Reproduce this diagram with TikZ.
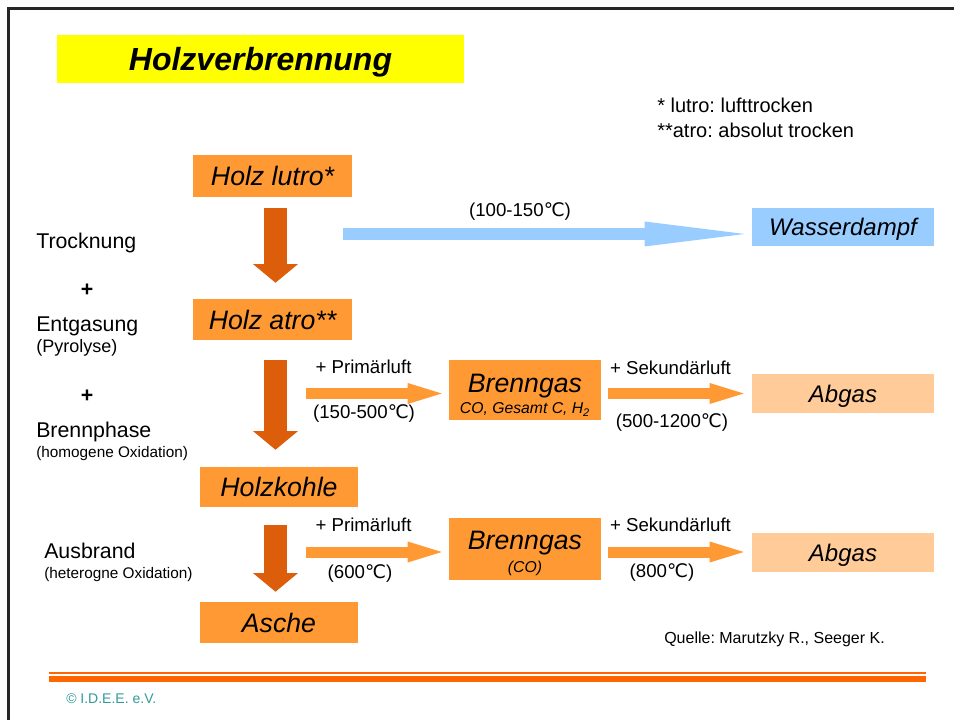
\documentclass[tikz,border=0pt]{standalone}
\usepackage{fontspec}
\setmainfont{Liberation Sans}
\newfontfamily\gradfont{DejaVu Sans}
\usepackage{tikz}
\usetikzlibrary{arrows.meta,positioning,calc}
\definecolor{BoxOrange}{RGB}{255,153,51}
\definecolor{ArrowRust}{RGB}{221,94,10}
\definecolor{SteamBlue}{RGB}{153,204,255}
\definecolor{FluePeach}{RGB}{255,204,153}
\definecolor{TitleYellow}{RGB}{255,255,0}
\definecolor{RuleOrange}{RGB}{255,102,0}
\definecolor{FooterTeal}{RGB}{51,153,153}
\newcommand{\celsius}{{\gradfont ℃}}
\frenchspacing
\tikzset{
  titel/.style={fill=TitleYellow,inner sep=0pt,text depth=0pt,
    minimum width=305.25pt,minimum height=36pt,
    font=\fontsize{24}{29}\selectfont\bfseries\itshape},
  stoff/.style={fill=BoxOrange,inner sep=0pt,text depth=0pt,
    font=\fontsize{20}{24}\selectfont\itshape},
  gas/.style={fill=BoxOrange,inner sep=0pt,align=center,
    minimum width=114pt,font=\fontsize{20}{24}\selectfont\itshape},
  abgas/.style={fill=FluePeach,inner sep=0pt,text depth=0pt,
    minimum width=136.5pt,font=\fontsize{18}{22}\selectfont\itshape},
  phase/.style={anchor=base west,inner sep=0pt,font=\fontsize{16}{19}\selectfont},
  phasezusatz/.style={anchor=base west,inner sep=0pt,font=\fontsize{11.5}{14}\selectfont},
  plus/.style={inner sep=0pt,font=\fontsize{16}{19}\selectfont\bfseries},
  luftlabel/.style={anchor=base,inner sep=0pt,font=\fontsize{14}{17}\selectfont},
  fussnote/.style={anchor=base west,inner sep=0pt,font=\fontsize{15}{18}\selectfont},
  abwaerts/.style={line width=17.25pt,draw=ArrowRust,
    -{Triangle[length=14pt,width=33.75pt,line width=0pt]}},
  luftpfeil/.style={line width=8.25pt,draw=BoxOrange,
    -{Triangle[length=25.5pt,width=15.75pt,line width=0pt]}},
  dampfpfeil/.style={line width=9pt,draw=SteamBlue,
    -{Triangle[length=75pt,width=18.75pt,line width=0pt]}}
}
\begin{document}
\begin{tikzpicture}[x=0.75pt,y=-0.75pt,>=Latex]
  \useasboundingbox (0,0) rectangle (954,720);
  \draw[line width=2pt,black!85] (8.5,720) -- (8.5,8.5) -- (954,8.5);

  \node[titel] (titel) at (260.5,59) {Holzverbrennung};
  \node[fussnote] (fnA) at (657,113) {* lutro: lufttrocken};
  \node[fussnote] (fnB) at (657,138) {**atro: absolut trocken};

  \node[stoff,minimum width=119.25pt,minimum height=31.5pt] (lutro) at (272.5,176) {Holz lutro*};
  \node[stoff,minimum width=119.25pt,minimum height=30.75pt] (atro) at (272.5,319.5) {Holz atro**};
  \node[stoff,minimum width=118.5pt,minimum height=30pt] (kohle) at (279,487) {Holzkohle};
  \node[stoff,minimum width=118.5pt,minimum height=30.75pt] (asche) at (279,622.5) {Asche};
  \node[gas,minimum height=45pt] (gasA) at (525,390.5) {};
  \node[gas,minimum height=46.5pt] (gasB) at (525,548.5) {};
  \node[gas,fill=none,yshift=-3.5pt] (gasAtext) at (gasA)
    {Brenngas\\[-8pt]{\fontsize{11.8}{14}\selectfont CO, Gesamt C, H\textsubscript{2}}};
  \node[gas,fill=none,yshift=-3.5pt] (gasBtext) at (gasB)
    {Brenngas\\[-6.75pt]{\fontsize{11.8}{14}\selectfont (CO)}};
  \node[abgas,fill=SteamBlue,minimum height=28.5pt] (dampf) at (843,227) {Wasserdampf};
  \node[abgas,minimum height=29.25pt] (abgasA) at (843,393.5) {Abgas};
  \node[abgas,minimum height=29.25pt] (abgasB) at (843,552.5) {Abgas};

  \node[phase] (trocknung) at (36,249) {Trocknung};
  \node[plus] (plusA) at (87,290) {+};
  \node[phase] (entgasung) at (36,332) {Entgasung};
  \node[phasezusatz,font=\fontsize{13.5}{16}\selectfont] (pyrolyse) at (36,353) {(Pyrolyse)};
  \node[plus] (plusB) at (87,396) {+};
  \node[phase] (brennphase) at (36,438) {Brennphase};
  \node[phasezusatz] (homogen) at (36,458) {(homogene Oxidation)};
  \node[phase] (ausbrand) at (44,558) {Ausbrand};
  \node[phasezusatz] (heterogen) at (44,578) {(heterogne Oxidation)};

  \coordinate (achse) at (275.5,0);
  \draw[abwaerts,shorten <=8.25pt,shorten >=12pt] (achse |- lutro.south) -- (achse |- atro.north);
  \draw[abwaerts,shorten <=15pt,shorten >=12.75pt] (achse |- atro.south) -- (achse |- kohle.north);
  \draw[abwaerts,shorten <=13.5pt,shorten >=7.5pt] (achse |- kohle.south) -- (achse |- asche.north);

  \coordinate (dampfstart) at (343,234);
  \draw[dampfpfeil,shorten >=5.25pt] (dampfstart) -- (dampfstart -| dampf.west);
  \node[luftlabel] (tempdampf) at (520,217) {(100-150\celsius)};

  \coordinate (luftA) at (306,393.5);
  \draw[luftpfeil,shorten >=5.25pt] (luftA) -- (luftA -| gasA.west);
  \draw[luftpfeil,shorten <=5.25pt,shorten >=6pt] (luftA -| gasA.east) -- (luftA -| abgasA.west);
  \node[luftlabel] (primA) at (363.5,374) {+ Primärluft};
  \node[luftlabel] (tempA) at (364,419) {(150-500\celsius)};
  \node[luftlabel] (sekA) at (670.5,375) {+ Sekundärluft};
  \node[luftlabel] (tempAA) at (672,428) {(500-1200\celsius)};

  \coordinate (luftB) at (306,552);
  \draw[luftpfeil,shorten >=5.25pt] (luftB) -- (luftB -| gasB.west);
  \draw[luftpfeil,shorten <=5.25pt,shorten >=6pt] (luftB -| gasB.east) -- (luftB -| abgasB.west);
  \node[luftlabel] (primB) at (363.5,532) {+ Primärluft};
  \node[luftlabel] (tempB) at (360,578) {(600\celsius)};
  \node[luftlabel] (sekB) at (670.5,532) {+ Sekundärluft};
  \node[luftlabel] (tempBB) at (662,577) {(800\celsius)};

  \node[anchor=base west,inner sep=0pt,font=\fontsize{12}{14}\selectfont] (quelle) at (664,643) {Quelle: Marutzky R., Seeger K.};
  \draw[RuleOrange,line width=1.5pt] (49,673) -- (926,673);
  \draw[RuleOrange,line width=4.5pt] (49,679) -- (926,679);
  \node[anchor=base west,inner sep=0pt,text=FooterTeal,font=\fontsize{10.5}{12}\selectfont] (copy) at (66,703) {© I.D.E.E. e.V.};
\end{tikzpicture}
\end{document}
